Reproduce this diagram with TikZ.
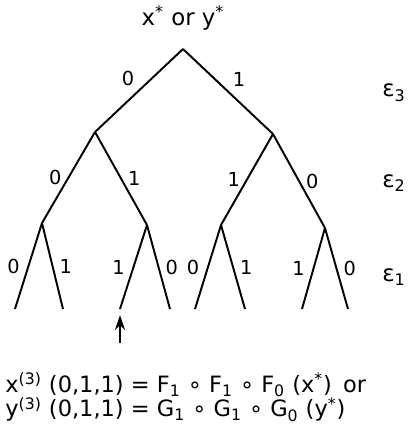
\documentclass[tikz,border=0pt]{standalone}
\usepackage{fontspec}
\setmainfont{DejaVu Sans}
\usepackage{tikz}
\usetikzlibrary{arrows.meta,positioning}

\begin{document}
\begin{tikzpicture}[x=0.02cm, y=-0.02cm, font=\fontsize{10}{12}\selectfont,
  >={Stealth[length=3mm, width=2mm]},
  branch/.style={line width=1.1pt},
  bit/.style={font=\fontsize{11}{13}\selectfont, inner sep=1.5pt},
  level/.style={font=\fontsize{13}{15}\selectfont, anchor=west, inner sep=0pt}]
  \useasboundingbox (0,0) rectangle (408,424);
  % tree points
  \coordinate (r) at (183,49);
  \coordinate (a) at (95,132);   \coordinate (b) at (273,134);
  \coordinate (aa) at (42,223);  \coordinate (ab) at (147,225);
  \coordinate (ba) at (221,225); \coordinate (bb) at (325,228);
  \coordinate (l1) at (15,309);  \coordinate (l2) at (63,309);
  \coordinate (l3) at (120,309); \coordinate (l4) at (170,309);
  \coordinate (l5) at (195,309); \coordinate (l6) at (245,309);
  \coordinate (l7) at (302,309); \coordinate (l8) at (348,309);
  \node[font=\fontsize{13}{15}\selectfont] (top) at (183,18) {x\textsuperscript{*} or y\textsuperscript{*}};
  % first step
  \draw[branch] (r) -- node[bit, above left=1pt]{0} (a);
  \draw[branch] (r) -- node[bit, above right=1pt]{1} (b);
  % second step
  \draw[branch] (a) -- node[bit, left=2pt]{0} (aa);
  \draw[branch] (a) -- node[bit, right=2pt]{1} (ab);
  \draw[branch] (b) -- node[bit, left=2pt]{1} (ba);
  \draw[branch] (b) -- node[bit, right=2pt]{0} (bb);
  % third step
  \draw[branch] (aa) -- node[bit, left=3pt]{0} (l1);
  \draw[branch] (aa) -- node[bit, right=2pt]{1} (l2);
  \draw[branch] (ab) -- node[bit, left=3pt]{1} (l3);
  \draw[branch] (ab) -- node[bit, right=2pt]{0} (l4);
  \draw[branch] (ba) -- node[bit, left=3pt]{0} (l5);
  \draw[branch] (ba) -- node[bit, right=2pt]{1} (l6);
  \draw[branch] (bb) -- node[bit, left=3pt]{1} (l7);
  \draw[branch] (bb) -- node[bit, right=2pt]{0} (l8);
  % levels
  \node[level] (e3) at (382,93) {ε\textsubscript{3}};
  \node[level] (e2) at (382,183) {ε\textsubscript{2}};
  \node[level] (e1) at (382,277) {ε\textsubscript{1}};
  % path (0,1,1)
  \coordinate (foot) at (120,343);
  \draw[branch, ->] (foot) -- (120,315);
  \node[font=\fontsize{12.8}{14}\selectfont, anchor=west, align=left, inner sep=0pt] (formula) at (5,397)
    {x\textsuperscript{(3)} (0,1,1) = F\textsubscript{1} ∘ F\textsubscript{1} ∘ F\textsubscript{0} (x\textsuperscript{*})\enspace or\\
     y\textsuperscript{(3)} (0,1,1) = G\textsubscript{1} ∘ G\textsubscript{1} ∘ G\textsubscript{0} (y\textsuperscript{*})};
\end{tikzpicture}
\end{document}
